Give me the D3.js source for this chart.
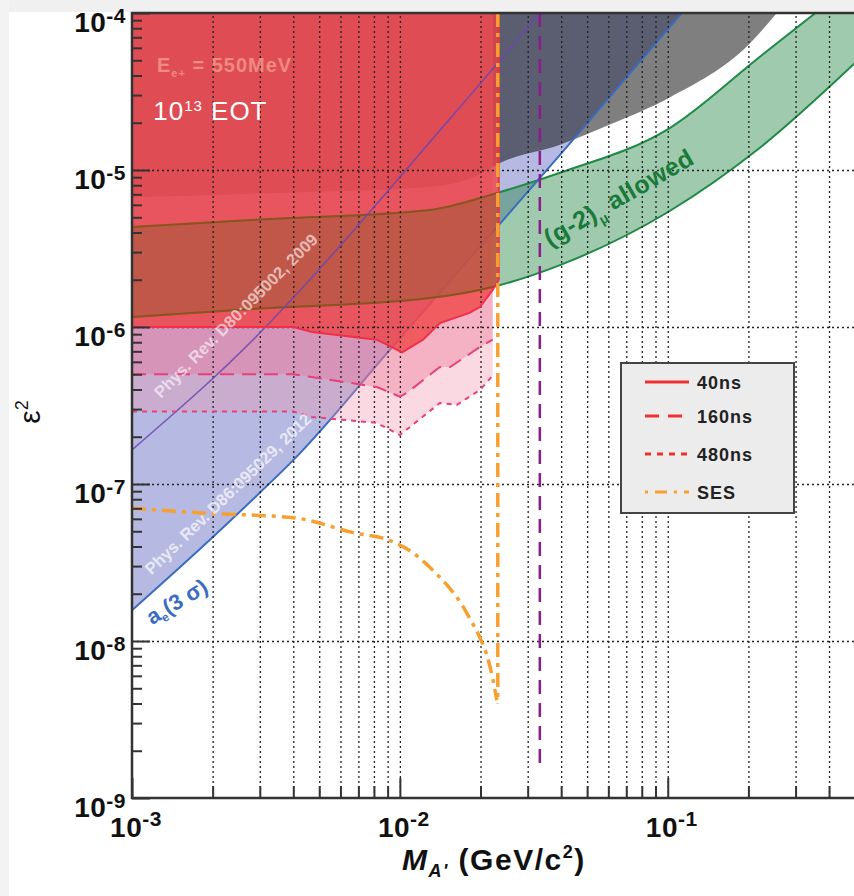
<!DOCTYPE html>
<html>
<head>
<meta charset="utf-8">
<script src="https://cdn.jsdelivr.net/npm/d3@7"></script>
<style>
  body { margin: 0; background: #fff; }
  svg { display: block; font-family: "Liberation Sans", Arial, Helvetica, sans-serif; }
</style>
</head>
<body>
<div id="container"></div>
<script>
/* DATA */
const massTicks = [1e-3, 1e-2, 1e-1];
const massTickExp = ["-3", "-2", "-1"];
const epsTicks = [1e-9, 1e-8, 1e-7, 1e-6, 1e-5, 1e-4];
const epsTickExp = ["-9", "-8", "-7", "-6", "-5", "-4"];

// sensitivity curves [mass, eps^2]
const sens40ns = [[0.001, 1e-6], [0.004, 1e-6], [0.0047, 9.3e-7], [0.0082, 8.3e-7], [0.0102, 6.9e-7],
  [0.0122, 8.3e-7], [0.0141, 1.06e-6], [0.0182, 1.23e-6], [0.0199, 1.34e-6], [0.0222, 1.72e-6], [0.0234, 2.0e-6]];
const sens160ns = [[0.001, 5e-7], [0.004, 5e-7], [0.0082, 4.15e-7], [0.01, 3.6e-7], [0.0106, 3.8e-7],
  [0.0141, 5.56e-7], [0.0154, 5.56e-7], [0.0199, 7.46e-7], [0.0222, 8.3e-7]];
const sens480ns = [[0.001, 2.9e-7], [0.004, 2.9e-7], [0.0047, 2.67e-7], [0.0082, 2.45e-7], [0.01, 2.05e-7],
  [0.0141, 3.28e-7], [0.0163, 3.19e-7], [0.0199, 3.97e-7], [0.0222, 4.9e-7]];
const sesCurve = [[0.001, 7.0e-8], [0.00195, 6.5e-8], [0.004, 6.1e-8], [0.0067, 4.9e-8], [0.0094, 4.3e-8],
  [0.0112, 3.64e-8], [0.0129, 2.96e-8], [0.0150, 2.27e-8], [0.0168, 1.77e-8], [0.0182, 1.40e-8],
  [0.0199, 1.05e-8], [0.0211, 8.15e-9], [0.0222, 5.8e-9], [0.0230, 4.2e-9]];
const sesEdge = [[0.0232, 1e-4], [0.0232, 4.0e-9]];
const beamEdge = [[0.0333, 1e-4], [0.0333, 1.67e-9]];
const padmeEdge = 0.0234;

// a_e (3 sigma) and the 2009 line
const aeLine = [[0.001, 1.57e-8], [0.00195, 4.4e-8], [0.003, 8.8e-8], [0.004, 1.42e-7], [0.0094, 7.5e-7],
  [0.0396, 1.25e-5], [0.1127, 1e-4], [0.2, 3.2e-4]];
const prd80Line = [[0.001, 1.65e-7], [0.00308, 9.6e-7], [0.00461, 2.0e-6], [0.00841, 6.4e-6],
  [0.0122, 1.34e-5], [0.0232, 4.8e-5], [0.0333, 1e-4], [0.05, 2.2e-4]];

// gray excluded region lower edge
const grayEdge = [[0.001, 6.7e-6], [0.004, 7.2e-6], [0.0129, 7.8e-6], [0.0199, 9.4e-6], [0.0234, 1.1e-5],
  [0.0396, 1.45e-5], [0.0608, 1.95e-5], [0.1017, 2.9e-5], [0.2023, 6.4e-5], [0.2553, 1e-4], [0.3, 1.4e-4]];

// (g-2)_mu allowed band
const g2Mass = [0.001, 0.003, 0.0129, 0.0228, 0.0396, 0.1017, 0.2202, 0.5];
const g2Upper = [4.33e-6, 4.83e-6, 5.56e-6, 7.1e-6, 9.6e-6, 1.85e-5, 5.25e-5, 1.58e-4];
const g2Lower = [1.16e-6, 1.31e-6, 1.53e-6, 1.82e-6, 2.48e-6, 5.48e-6, 1.38e-5, 4.8e-5];

const legendLabels = ["40ns", "160ns", "480ns", "SES"];

/* LAYOUT */
const width = 854, height = 896;
const svg = d3.select("#container").append("svg")
  .attr("width", width).attr("height", height);

const x = d3.scaleLog().domain([1e-3, 0.5]).range([132, 855]);
const y = d3.scaleLog().domain([1e-9, 1e-4]).range([798, 13]);
const [x0, x1] = x.range();
const [yB, yT] = y.range();

// screenshot edge
svg.append("rect").attr("x", 0).attr("y", 0).attr("width", width).attr("height", 12).attr("fill", "#f0f0f0");
svg.append("rect").attr("x", 0).attr("y", 0).attr("width", 9).attr("height", height).attr("fill", "#f3f3f3");

const defs = svg.append("defs");
defs.append("clipPath").attr("id", "plot")
  .append("rect").attr("x", x0).attr("y", yT).attr("width", x1 - x0).attr("height", yB - yT);

const line = d3.line().x(d => x(d[0])).y(d => y(d[1]));
const smooth = d3.line().x(d => x(d[0])).y(d => y(d[1])).curve(d3.curveMonotoneX);
const above = d3.area().x(d => x(d[0])).y0(d => y(d[1])).y1(0);
const aboveSmooth = d3.area().x(d => x(d[0])).y0(d => y(d[1])).y1(0).curve(d3.curveMonotoneX);
const band = d3.area().x(d => x(d[0])).y0(d => y(d[1])).y1(d => y(d[2])).curve(d3.curveMonotoneX);
const g2 = g2Mass.map((m, i) => [m, g2Lower[i], g2Upper[i]]);

defs.append("clipPath").attr("id", "padme")
  .append("path").attr("d", above(sens40ns));

const plot = svg.append("g").attr("clip-path", "url(#plot)");

// a_e excluded (lavender)
plot.append("path").attr("d", aboveSmooth(aeLine)).attr("fill", "#3a44b0").attr("fill-opacity", 0.37);
// other exclusions (gray)
plot.append("path").attr("d", aboveSmooth(grayEdge)).attr("fill", "#000").attr("fill-opacity", 0.5);
// g-2 band
plot.append("path").attr("d", band(g2)).attr("fill", "#2a8a4a").attr("fill-opacity", 0.45);
plot.selectAll(".g2line").data([g2Upper, g2Lower]).join("path")
  .attr("d", v => smooth(g2Mass.map((m, i) => [m, v[i]])))
  .attr("fill", "none").attr("stroke", "#1f8a45").attr("stroke-width", 2);

// a_e line under the red fill
plot.append("path").attr("d", smooth(aeLine)).attr("fill", "none")
  .attr("stroke", "#3a6cc0").attr("stroke-width", 2);

// sensitivity fills
plot.append("path").attr("d", above(sens480ns)).attr("fill", "#f093ac").attr("fill-opacity", 0.35);
plot.append("path").attr("d", above(sens160ns)).attr("fill", "#f0648c").attr("fill-opacity", 0.33);
plot.append("path").attr("d", above(sens40ns)).attr("fill", "#ee4444").attr("fill-opacity", 0.78);

// brown tint where red covers the g-2 band
const inRed = plot.append("g").attr("clip-path", "url(#padme)");
inRed.append("path").attr("d", band(g2)).attr("fill", "#3c6a10").attr("fill-opacity", 0.2);
inRed.selectAll(".g2brown").data([g2Upper, g2Lower]).join("path")
  .attr("d", v => smooth(g2Mass.map((m, i) => [m, v[i]])))
  .attr("fill", "none").attr("stroke", "#8a5420").attr("stroke-width", 2);

// grid
const grid = svg.append("g").attr("clip-path", "url(#plot)");
grid.append("g").attr("transform", `translate(0,${yB})`)
  .call(d3.axisBottom(x).tickValues(x.ticks().filter(t => t > 1e-3)).tickSize(-(yB - yT)).tickFormat(""))
  .call(g => g.select(".domain").remove());
grid.append("g").attr("transform", `translate(${x0},0)`)
  .call(d3.axisLeft(y).tickValues(epsTicks.slice(1, -1)).tickSize(-(x1 - x0)).tickFormat(""))
  .call(g => g.select(".domain").remove());
grid.selectAll("line").attr("stroke", "#222").attr("stroke-width", 1.3).attr("stroke-dasharray", "2,3");

// curves on top
const overlay = svg.append("g").attr("clip-path", "url(#plot)");
overlay.append("path").attr("d", smooth(prd80Line)).attr("fill", "none")
  .attr("stroke", "#6a48b0").attr("stroke-width", 1.6).attr("stroke-opacity", 0.85);
overlay.append("path").attr("d", line(sens40ns.concat([[padmeEdge, 1e-4]]))).attr("fill", "none")
  .attr("stroke", "#f0304a").attr("stroke-width", 2);
overlay.append("path").attr("d", line(sens160ns)).attr("fill", "none")
  .attr("stroke", "#e8407a").attr("stroke-width", 2).attr("stroke-dasharray", "14,8");
overlay.append("path").attr("d", line(sens480ns)).attr("fill", "none")
  .attr("stroke", "#e8407a").attr("stroke-width", 2).attr("stroke-dasharray", "5,5");
overlay.append("path").attr("d", smooth(sesCurve)).attr("fill", "none")
  .attr("stroke", "#f7a030").attr("stroke-width", 3.5).attr("stroke-dasharray", "14,6,4,6");
overlay.append("path").attr("d", line(sesEdge)).attr("fill", "none")
  .attr("stroke", "#f7a030").attr("stroke-width", 3.5).attr("stroke-dasharray", "14,6,4,6");
overlay.append("path").attr("d", line(beamEdge)).attr("fill", "none")
  .attr("stroke", "#8b1c8b").attr("stroke-width", 2.5).attr("stroke-dasharray", "14,9");

// annotations
const rot = (m, e, a) => `translate(${x(m)},${y(e)}) rotate(${a})`;
const t1 = svg.append("text").attr("x", x(0.00124)).attr("y", y(4.2e-5))
  .attr("font-size", 20).attr("font-weight", "bold").attr("letter-spacing", 1).attr("fill", "#ee8a80");
t1.append("tspan").text("E");
t1.append("tspan").attr("font-size", 11).attr("dy", 5).text("e+");
t1.append("tspan").attr("dy", -5).text(" = 550MeV");

const t2 = svg.append("text").attr("x", x(0.0012)).attr("y", y(2.09e-5))
  .attr("font-size", 26).attr("letter-spacing", 1).attr("fill", "#fff");
t2.append("tspan").text("10");
t2.append("tspan").attr("font-size", 15).attr("dy", -9).text("13");
t2.append("tspan").attr("dy", 9).text(" EOT");

svg.append("text").attr("transform", rot(0.00253, 1.11e-6, -45))
  .attr("text-anchor", "middle").attr("font-size", 16.5).attr("font-weight", "bold")
  .attr("fill", "#fff").attr("fill-opacity", 0.6).text("Phys. Rev. D80:095002, 2009");
svg.append("text").attr("transform", rot(0.00236, 8.15e-8, -44))
  .attr("text-anchor", "middle").attr("font-size", 16.5).attr("font-weight", "bold")
  .attr("fill", "#fff").attr("fill-opacity", 0.7).text("Phys. Rev. D86:095029, 2012");

const ae = svg.append("text").attr("transform", rot(0.00152, 1.62e-8, -31))
  .attr("text-anchor", "middle").attr("font-size", 22).attr("font-weight", "bold").attr("fill", "#3a6cc0");
ae.append("tspan").text("a");
ae.append("tspan").attr("font-size", 12).attr("dy", 4).text("e");
ae.append("tspan").attr("dy", -4).text("(3 σ)");

const gl = svg.append("text").attr("transform", rot(0.068, 5.98e-6, -30))
  .attr("text-anchor", "middle").attr("font-size", 25).attr("font-weight", "bold")
  .attr("letter-spacing", 0.5).attr("fill", "#1a7a3a");
gl.append("tspan").text("(g-2)");
gl.append("tspan").attr("font-size", 14).attr("dy", 7).text("μ");
gl.append("tspan").attr("dy", -7).text(" allowed");

// axes: ticks pointing inward
const axes = svg.append("g").attr("color", "#333");
const yMinor = y.ticks().filter(t => !epsTicks.includes(t));
const xMinor = x.ticks().filter(t => !massTicks.includes(t));
axes.append("g").attr("transform", `translate(${x0},0)`)
  .call(d3.axisLeft(y).tickValues(yMinor).tickSize(-10).tickFormat(""));
axes.append("g").attr("transform", `translate(${x0},0)`)
  .call(d3.axisLeft(y).tickValues(epsTicks).tickSize(-18).tickFormat(""));
axes.append("g").attr("transform", `translate(0,${yB})`)
  .call(d3.axisBottom(x).tickValues(xMinor).tickSize(-12).tickFormat(""));
axes.append("g").attr("transform", `translate(0,${yB})`)
  .call(d3.axisBottom(x).tickValues(massTicks).tickSize(-20).tickFormat(""));
axes.selectAll(".domain").remove();
axes.selectAll("line").attr("stroke-width", 2);
axes.append("path").attr("d", `M${x1},${yT}H${x0}V${yB}H${x1}`)
  .attr("fill", "none").attr("stroke", "#333").attr("stroke-width", 2.5);

// tick labels
const yl = svg.append("g").selectAll("text").data(epsTicks).join("text")
  .attr("x", x0 - 6).attr("y", d => y(d) + 19).attr("text-anchor", "end")
  .attr("font-size", 28).attr("font-weight", "bold").attr("letter-spacing", 0.5).attr("fill", "#111");
yl.append("tspan").text("10");
yl.append("tspan").attr("font-size", 21).attr("dy", -9).text((d, i) => epsTickExp[i]);

const xl = svg.append("g").selectAll("text").data(massTicks).join("text")
  .attr("x", d => x(d) + 4).attr("y", yB + 39).attr("text-anchor", "middle")
  .attr("font-size", 28).attr("font-weight", "bold").attr("letter-spacing", 0.5).attr("fill", "#111");
xl.append("tspan").text("10");
xl.append("tspan").attr("font-size", 21).attr("dy", -11).text((d, i) => massTickExp[i]);

// axis titles
const xt = svg.append("text").attr("x", 402).attr("y", 870)
  .attr("font-size", 30).attr("font-weight", "bold").attr("letter-spacing", 1.5).attr("fill", "#111");
xt.append("tspan").attr("font-style", "italic").text("M");
xt.append("tspan").attr("font-style", "italic").attr("font-size", 18).attr("dy", 7).text("A'");
xt.append("tspan").attr("dy", -7).text(" (GeV/c");
xt.append("tspan").attr("font-size", 18).attr("dy", -12).text("2");
xt.append("tspan").attr("dy", 12).text(")");

const yt = svg.append("text").attr("transform", "translate(40,412) rotate(-90)")
  .attr("text-anchor", "middle").attr("font-size", 30).attr("fill", "#111");
yt.append("tspan").text("ε");
yt.append("tspan").attr("font-size", 18).attr("dy", -12).text("2");

// legend
const legendStyles = [
  { color: "#f03030", dash: null, w: 3 },
  { color: "#f03030", dash: "14,9", w: 3 },
  { color: "#f03030", dash: "6,6", w: 3 },
  { color: "#f7a030", dash: "3,7,12,7", w: 3 }
];
const legend = svg.append("g").attr("transform", "translate(621,363)");
legend.append("rect").attr("width", 173).attr("height", 150)
  .attr("fill", "#ececec").attr("stroke", "#444").attr("stroke-width", 2);
const rows = legend.selectAll("g").data(legendLabels).join("g")
  .attr("transform", (d, i) => `translate(0,${[19, 53, 91, 129][i]})`);
rows.append("line").attr("x1", 24).attr("x2", 68)
  .attr("stroke", (d, i) => legendStyles[i].color)
  .attr("stroke-width", (d, i) => legendStyles[i].w)
  .attr("stroke-dasharray", (d, i) => legendStyles[i].dash);
rows.append("text").attr("x", 76).attr("y", 6.5).attr("font-size", 18)
  .attr("font-weight", "bold").attr("letter-spacing", 1).attr("fill", "#222").text(d => d);
</script>
</body>
</html>
